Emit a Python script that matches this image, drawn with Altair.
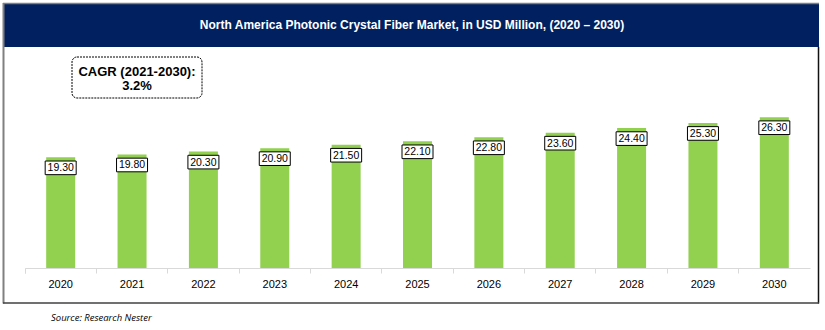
import altair as alt
import pandas as pd

years = ["2020", "2021", "2022", "2023", "2024", "2025", "2026", "2027", "2028", "2029", "2030"]
values = [19.30, 19.80, 20.30, 20.90, 21.50, 22.10, 22.80, 23.60, 24.40, 25.30, 26.30]
title_text = "North America Photonic Crystal Fiber Market, in USD Million, (2020 \u2013 2030)"
cagr_lines = ["CAGR (2021-2030):", "3.2%"]
source_text = "Source: Research Nester"

df = pd.DataFrame({"year": years, "value": values})
df["label"] = [f"{v:.2f}" for v in values]
one = pd.DataFrame({"a": [0]})

W, H = 785, 172

x = alt.X("year:N", sort=years,
          scale=alt.Scale(paddingInner=0, paddingOuter=0),
          axis=alt.Axis(title=None, labelAngle=0, bandPosition=0, tickExtra=True,
                        domainColor="#d9d9d9", tickColor="#d9d9d9", tickSize=5,
                        labelFontSize=11, labelColor="black", labelFont="Liberation Sans",
                        labelPadding=5))
y = alt.Y("value:Q", scale=alt.Scale(domain=[0, 30]), axis=None)

bars = alt.Chart(df).mark_bar(width=29, color="#92D050").encode(x=x, y=y)

boxes = alt.Chart(df).mark_point(
    shape="M-1,-0.44L1,-0.44L1,0.44L-1,0.44Z", size=961, filled=False,
    fill="white", fillOpacity=1, stroke="black", strokeWidth=1, opacity=1, yOffset=10.5
).encode(x=x, y=y)

labels = alt.Chart(df).mark_text(
    fontSize=10.5, font="Liberation Sans", color="black", baseline="middle", yOffset=11
).encode(x=x, y=y, text="label:N")

# decorations
banner = alt.Chart(one).mark_rect(color="#002060").encode(
    x=alt.value(-21), x2=alt.value(794), y=alt.value(-92), y2=alt.value(-49))
top_line = alt.Chart(one).mark_rule(color="#808080", strokeWidth=1.5).encode(
    x=alt.value(-22), x2=alt.value(794), y=alt.value(-92.5))
left_line = alt.Chart(one).mark_rule(color="#808080", strokeWidth=2).encode(
    x=alt.value(-21.5), y=alt.value(-93), y2=alt.value(207.5))
right_line = alt.Chart(one).mark_rule(color="#111111", strokeWidth=1.5).encode(
    x=alt.value(793.5), y=alt.value(-49), y2=alt.value(207.5))
bottom_line = alt.Chart(one).mark_rule(color="#404040", strokeWidth=1.5).encode(
    x=alt.value(-22), x2=alt.value(794), y=alt.value(207))

title = alt.Chart(one).mark_text(
    text=title_text, color="white", fontWeight="bold", fontSize=12,
    font="Liberation Sans", align="center", baseline="middle"
).encode(x=alt.value(387), y=alt.value(-71))

cagr_box = alt.Chart(one).mark_rect(
    fill="white", stroke="black", strokeWidth=1, strokeDash=[2, 1], cornerRadius=5
).encode(x=alt.value(47), x2=alt.value(177), y=alt.value(-39), y2=alt.value(2))
cagr_text = alt.Chart(one).mark_text(
    text=cagr_lines, fontSize=13, fontWeight="bold", font="Liberation Sans",
    color="black", align="center", baseline="middle", lineHeight=14
).encode(x=alt.value(112), y=alt.value(-24))

source = alt.Chart(one).mark_text(
    text=source_text, fontSize=9.5, fontStyle="italic", font="Open Sans",
    color="black", align="left", baseline="middle"
).encode(x=alt.value(26), y=alt.value(222))

chart = alt.layer(
    banner, top_line, left_line, right_line, bottom_line, title,
    cagr_box, cagr_text, bars, boxes, labels, source
).properties(
    width=W, height=H,
    padding={"left": 25, "top": 96, "right": 15, "bottom": 62},
    autosize=alt.AutoSizeParams(type="none"),
    background="white"
).configure_view(stroke=None)

chart.save("out.html", embed_options={"renderer": "svg", "actions": False})
